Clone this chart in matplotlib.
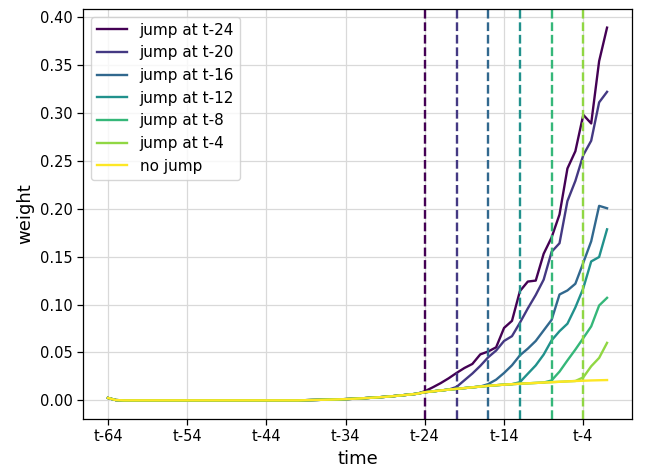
import matplotlib
matplotlib.use("Agg")
import matplotlib.pyplot as plt
import numpy as np

# time index 0..63 corresponds to t-64 .. t-1
tick_pos = [0, 10, 20, 30, 40, 50, 60]
tick_labels = ["t-64", "t-54", "t-44", "t-34", "t-24", "t-14", "t-4"]

# "no jump" baseline weights (64 points)
no_jump = [0.0025, 0.0003, 0.0, 0.0, 0.0, 0.0, 0.0, 0.0, 0.0, 0.0,
           0.0, 0.0, 0.0, 0.0, 0.0, 0.0, 0.0, 0.0, 0.0, 0.0,
           0.0, 0.0, 0.0, 0.0, 0.0, 0.0002, 0.0004, 0.0006, 0.0008, 0.001,
           0.0013, 0.0017, 0.0021, 0.0026, 0.0031, 0.0037, 0.0044, 0.0052, 0.006, 0.0069,
           0.0085, 0.0094, 0.0103, 0.0112, 0.012, 0.0128, 0.0136, 0.0144, 0.0152, 0.0158,
           0.0164, 0.0169, 0.0174, 0.0178, 0.0182, 0.0186, 0.019, 0.0194, 0.0198, 0.0202,
           0.0205, 0.0208, 0.021, 0.0212]

# values from the jump index onward for each series
jump_24 = [0.0095, 0.0136, 0.018, 0.023, 0.0286, 0.0338, 0.038, 0.048, 0.051, 0.0554,
           0.0756, 0.083, 0.114, 0.124, 0.125, 0.153, 0.170, 0.194, 0.242, 0.260,
           0.298, 0.289, 0.354, 0.389]
jump_20 = [0.014, 0.021, 0.028, 0.036, 0.045, 0.052, 0.062, 0.067, 0.081, 0.096,
           0.110, 0.126, 0.155, 0.164, 0.208, 0.229, 0.256, 0.271, 0.311, 0.322]
jump_16 = [0.017, 0.0216, 0.0286, 0.0366, 0.047, 0.054, 0.062, 0.073, 0.084, 0.1105,
           0.1147, 0.1217, 0.1436, 0.166, 0.203, 0.2005]
jump_12 = [0.019, 0.0278, 0.0365, 0.0478, 0.0626, 0.0722, 0.080, 0.097, 0.117, 0.145,
           0.1496, 0.1785]
jump_8 = [0.0208, 0.030, 0.0417, 0.053, 0.065, 0.0772, 0.099, 0.107]
jump_4 = [0.024, 0.0356, 0.0443, 0.060]

jump_steps = [24, 20, 16, 12, 8, 4]
jump_values = [jump_24, jump_20, jump_16, jump_12, jump_8, jump_4]

n = len(no_jump)
x = np.arange(n)
colors = plt.cm.viridis(np.linspace(0, 1, 7))

fig = plt.figure(figsize=(6.47, 4.68), dpi=100)
ax = fig.add_axes([83 / 647, 1 - 419 / 468, (632 - 83) / 647, (419 - 9) / 468])

LW = 1.7
for k, (step, vals) in enumerate(zip(jump_steps, jump_values)):
    start = n - step
    series = list(no_jump[:start]) + list(vals)
    ax.plot(x, series, color=colors[k], lw=LW, label=f"jump at t-{step}")
    ax.axvline(start, color=colors[k], ls="--", lw=LW)

ax.plot(x, no_jump, color=colors[6], lw=LW, label="no jump")

ax.set_xticks(tick_pos)
ax.set_xticklabels(tick_labels)
ax.set_yticks([0.0, 0.05, 0.10, 0.15, 0.20, 0.25, 0.30, 0.35, 0.40])
ax.yaxis.set_major_formatter(matplotlib.ticker.FormatStrFormatter("%.2f"))
ax.tick_params(labelsize=10.5, width=0.9, length=4)
for sp in ax.spines.values():
    sp.set_linewidth(0.9)
ax.grid(True, color="#d9d9d9", lw=0.9)
ax.set_axisbelow(True)
ax.set_xlabel("time", fontsize=13)
ax.set_ylabel("weight", fontsize=13)
ax.legend(loc="upper left", fontsize=11)

fig.savefig("out.png", dpi=100)
